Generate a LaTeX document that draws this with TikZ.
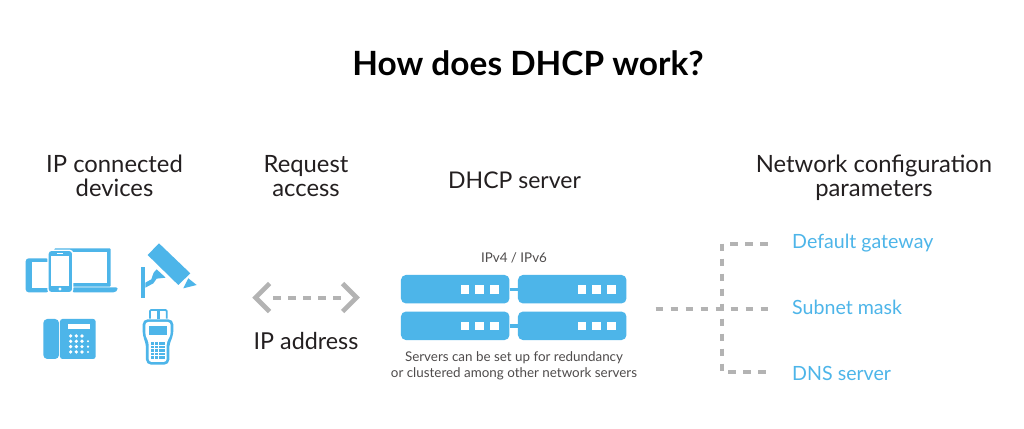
\documentclass[tikz,border=0pt]{standalone}
\usepackage{fontspec}
\setmainfont{Lato}
\definecolor{sky}{HTML}{4DB5E9}
\definecolor{ink}{HTML}{231F20}
\definecolor{dashgray}{HTML}{B3B3B3}
\tikzset{
  head/.style={font=\fontsize{23.8}{24}\selectfont,text=ink,align=center,inner sep=0pt,anchor=base},
  param/.style={font=\fontsize{19.6}{23}\selectfont,text=sky,inner sep=0pt,anchor=base west},
  small/.style={font=\fontsize{13.4}{16}\selectfont,text=ink!80,align=center,inner sep=0pt,anchor=base},
  srv/.style={fill=sky,rounded corners=5pt,minimum width=108.5pt,minimum height=28.5pt,inner sep=0pt,draw=none},
  dot/.style={fill=white,draw=none},
  link/.style={draw=sky,line width=3.4pt},
  dashline/.style={draw=dashgray,line width=4pt,dash pattern=on 7.5pt off 7.5pt},
  chev/.style={draw=dashgray,line width=4.6pt,miter limit=4},
}
\begin{document}
\begin{tikzpicture}[x=1pt,y=-1pt]
\useasboundingbox[fill=white] (0,0) rectangle (1024,428);
\node[font=\fontsize{33.4}{38}\selectfont\bfseries,text=black,inner sep=0pt,anchor=base] (title) at (528,75) {How does DHCP work?};
\node[head] (h1) at (114.5,196) {IP connected\\devices};
\node[head] (h2) at (306,196) {Request\\access};
\node[head,font=\fontsize{23}{24}\selectfont] (h3) at (514.5,188) {DHCP server};
\node[head] (h4) at (874,196) {Network configuration\\parameters};
\node[head,font=\fontsize{23.3}{24}\selectfont] (ip) at (306,349) {IP address};
\node[small] (v) at (514,262) {IPv4 / IPv6};
\node[small] (note) at (514,377) {Servers can be set up for redundancy\\or clustered among other network servers};
\node[param] (p1) at (792,248) {Default gateway};
\node[param] (p2) at (792,314) {Subnet mask};
\node[param] (p3) at (792,380) {DNS server};
% servers
\node[srv] (s1) at (455.2,289.2) {};
\node[srv] (s2) at (572.2,289.2) {};
\node[srv] (s3) at (455.2,325.8) {};
\node[srv] (s4) at (572.2,325.8) {};
\draw[link] (s1) -- (s2);
\draw[link] (s3) -- (s4);
\foreach \yy in {289.2,325.8}{
 \foreach \xx in {465.0,479.7,494.3,582.0,596.7,611.3}{
  \fill[dot] (\xx-4.3,\yy-4.3) rectangle (\xx+4.3,\yy+4.3);
 }
}
% double arrow
\coordinate (al) at (255.5,297.5);
\coordinate (ar) at (356.5,297.5);
\draw[dashline] (273,297.5) -- (341,297.5);
\draw[chev] (269.5,283.5) -- (al) -- (269.5,311.5);
\draw[chev] (342.5,283.5) -- (ar) -- (342.5,311.5);
% tree
\coordinate (t0) at (655.5,309.3);
\coordinate (tc) at (722.3,309.3);
\coordinate (t1) at (767.7,243.5);
\coordinate (t2) at (767.7,309.3);
\coordinate (t3) at (766,372.3);
\draw[dashline] (t0) -- (t2);
\draw[dashline] (722.3,243.5) -- (722.3,371);
\draw[dashline] (730,243.5) -- (t1);
\draw[dashline] (728,372.3) -- (t3);
% icons in zoom coordinates
\begin{scope}[shift={(10,230)},x=0.3333pt,y=-0.3333pt]
 % laptop
 \fill[sky,rounded corners=1pt] (133,55) rectangle (302,170);
 \fill[white] (145,66) rectangle (291,160);
 \fill[sky,rounded corners=1.5pt] (187,172) -- (323,172) -- (323,180) -- (315,187) -- (187,187) -- cycle;
 % tablet
 \fill[sky,rounded corners=3pt] (47,85) rectangle (118,187);
 \fill[white] (66,96) rectangle (118,175);
 % phone
 \fill[white,rounded corners=3.5pt] (112,59) rectangle (190,190);
 \fill[sky,rounded corners=3pt] (116,63) rectangle (186,186);
 \fill[white] (124,77) rectangle (178,167);
 \fill[white] (150,177) circle (5);
 \fill[white] (142,69) rectangle (158,72);
 % camera
 \fill[sky] (447,40) -- (541,130) -- (505,165) -- (413,75) -- cycle;
 \fill[sky] (535,145) -- (560,165) -- (520,175) -- cycle;
 \fill[sky] (392,110) rectangle (406,205);
 \fill[sky] (406,158) -- (424,148) -- (431,128) -- (440,118) -- (467,143) -- (440,146) -- (430,160) -- (406,173) -- cycle;
 % desk phone
 \fill[sky,rounded corners=4pt] (100,267) rectangle (147,387);
 \fill[sky,rounded corners=2.5pt] (150,267) rectangle (257,387);
 \fill[white] (173,281) rectangle (240,298);
 \foreach \yy in {318,334,350,366}{
  \foreach \xx in {182,199,216}{\fill[white] (\xx,\yy) circle (5.5);}
 }
 \foreach \yy in {334,350,366}{\fill[white] (234,\yy) circle (3.5);}
 % handheld
 \draw[sky,line width=1.7pt,rounded corners=1pt] (420,266) -- (420,240) -- (470,240) -- (470,266);
 \fill[sky] (441,240) rectangle (449,266);
 \fill[sky,rounded corners=5pt] (398,268) -- (490,268) -- (490,318) -- (478,340) -- (478,404) -- (408,404) -- (408,340) -- (398,318) -- cycle;
 \fill[white,rounded corners=3pt] (406,276) -- (482,276) -- (482,316) -- (470,336) -- (470,396) -- (416,396) -- (416,336) -- (406,316) -- cycle;
 \fill[sky] (418,287) rectangle (471,316);
 \foreach \yy in {337,347.5,358,368.5,379}{
  \foreach \xx in {424,435,446,457}{\fill[sky] (\xx,\yy) rectangle ++(9,8);}
 }
\end{scope}
\end{tikzpicture}
\end{document}
